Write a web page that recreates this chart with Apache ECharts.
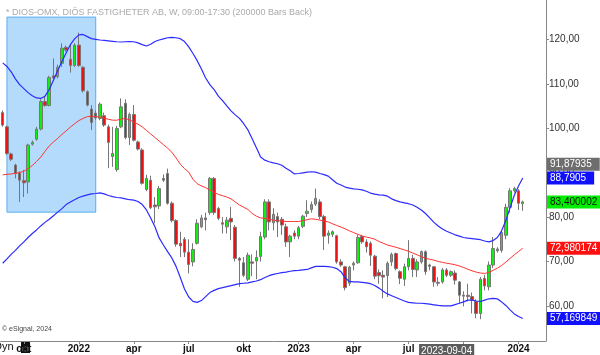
<!DOCTYPE html>
<html><head><meta charset="utf-8">
<script src="https://cdn.jsdelivr.net/npm/echarts@6/dist/echarts.min.js"></script>
<style>html,body{margin:0;padding:0;background:#fff}#c{width:600px;height:355px}</style>
</head><body><div id="c"></div>
<script>
const dates = [
'2021-08-30','2021-09-06','2021-09-13','2021-09-20','2021-09-27','2021-10-04','2021-10-11','2021-10-18','2021-10-25','2021-11-01','2021-11-08','2021-11-15','2021-11-22','2021-11-29','2021-12-06','2021-12-13','2021-12-20','2021-12-27',
'2022-01-03','2022-01-10','2022-01-17','2022-01-24','2022-01-31','2022-02-07','2022-02-14','2022-02-21','2022-02-28','2022-03-07','2022-03-14','2022-03-21','2022-03-28','2022-04-04','2022-04-11','2022-04-18','2022-04-25','2022-05-02','2022-05-09','2022-05-16','2022-05-23','2022-05-30','2022-06-06','2022-06-13','2022-06-20','2022-06-27','2022-07-04','2022-07-11','2022-07-18','2022-07-25','2022-08-01','2022-08-08','2022-08-15','2022-08-22','2022-08-29','2022-09-05','2022-09-12','2022-09-19','2022-09-26','2022-10-03','2022-10-10','2022-10-17','2022-10-24','2022-10-31','2022-11-07','2022-11-14','2022-11-21','2022-11-28','2022-12-05','2022-12-12','2022-12-19','2022-12-26',
'2023-01-02','2023-01-09','2023-01-16','2023-01-23','2023-01-30','2023-02-06','2023-02-13','2023-02-20','2023-02-27','2023-03-06','2023-03-13','2023-03-20','2023-03-27','2023-04-03','2023-04-10','2023-04-17','2023-04-24','2023-05-01','2023-05-08','2023-05-15','2023-05-22','2023-05-29','2023-06-05','2023-06-12','2023-06-19','2023-06-26','2023-07-03','2023-07-10','2023-07-17','2023-07-24','2023-07-31','2023-08-07','2023-08-14','2023-08-21','2023-08-28','2023-09-04','2023-09-11','2023-09-18','2023-09-25','2023-10-02','2023-10-09','2023-10-16','2023-10-23','2023-10-30','2023-11-06','2023-11-13','2023-11-20','2023-11-27','2023-12-04','2023-12-11','2023-12-18','2023-12-25',
'2024-01-01','2024-01-08','2024-01-15','2024-01-22','2024-01-29','2024-02-05','2024-02-12'];

const opens = [103.5,100.3,94.2,91.7,89.9,88.2,87.9,96.4,97.5,99.8,106.0,105.1,111.8,111.6,114.6,118.2,115.5,114.1,118.7,113.7,108.2,104.3,103.4,102.2,102.8,100.3,93.6,90.7,100.3,105.6,97.9,103.1,96.9,95.1,86.2,88.3,82.7,82.5,88.7,89.8,83.1,79.2,74.1,75.0,72.1,69.9,74.1,77.8,79.8,81.0,88.7,81.9,78.7,77.8,79.7,77.7,70.7,69.7,66.0,69.9,70.1,71.1,75.5,83.4,78.7,80.1,79.5,77.8,74.4,76.4,75.7,77.9,80.8,81.7,82.9,83.4,80.1,75.9,76.1,75.8,69.9,68.8,65.1,69.2,69.7,75.6,74.4,74.1,71.2,67.5,66.9,66.8,69.9,71.8,67.7,66.0,68.8,70.7,68.1,69.9,72.2,69.2,68.8,65.3,65.4,68.1,66.9,67.4,65.4,62.4,62.4,62.1,61.0,58.3,66.2,64.3,69.2,72.4,72.5,75.9,82.2,85.9,85.9,83.0];
const closes = [100.7,94.3,93.0,89.8,88.3,87.7,96.2,96.8,99.8,106.0,105.1,111.4,111.3,113.7,118.0,117.6,114.1,118.7,114.1,108.4,105.2,101.3,102.3,105.4,100.7,96.8,94.3,99.9,104.8,97.9,103.1,97.3,95.3,87.6,88.7,82.1,82.3,86.4,88.3,83.1,79.2,73.9,73.5,72.1,69.3,72.7,78.6,79.8,79.4,88.7,81.0,79.7,78.4,79.3,78.9,70.7,70.3,66.9,71.4,69.6,70.9,75.6,83.4,78.9,80.6,78.9,78.2,74.4,75.7,75.7,77.6,80.2,81.3,82.8,84.2,80.1,75.7,76.4,76.7,69.9,69.2,64.1,68.7,69.6,75.4,74.4,73.3,71.4,66.7,66.8,66.5,69.6,71.6,68.4,66.2,68.8,70.7,68.2,69.9,72.2,67.7,68.9,65.4,65.1,68.1,66.9,67.7,65.8,62.4,62.2,62.1,61.3,58.3,66.0,64.5,69.2,72.9,72.8,76.5,82.2,85.9,86.4,83.1,83.400002];
const lows = [100.3,94.0,92.6,88.7,83.4,84.5,85.3,96.1,97.2,99.5,104.8,104.9,111.0,111.2,113.8,117.2,112.5,113.8,113.8,108.0,104.9,99.6,101.9,101.8,100.3,91.0,91.3,90.2,100.0,97.5,96.2,97.0,95.0,87.3,85.8,81.8,78.6,81.8,87.9,82.8,78.8,73.3,71.0,71.0,67.3,68.9,73.8,77.5,77.0,80.5,80.5,79.3,76.3,76.3,74.8,70.0,64.3,66.5,65.6,66.7,66.0,70.0,75.0,77.0,77.0,75.5,76.0,73.3,71.0,75.0,75.0,77.5,80.0,81.0,82.5,79.5,72.6,74.0,75.5,69.5,68.8,63.5,64.5,68.0,69.5,74.0,72.0,69.0,66.0,65.0,61.7,62.0,69.0,68.0,64.9,64.5,68.0,66.5,66.5,69.5,67.0,68.0,64.3,64.5,65.0,66.5,66.5,64.8,60.5,59.9,61.0,58.3,57.2,57.0,63.5,63.5,68.5,72.0,72.0,75.0,81.0,85.5,81.6,81.4];
const highs = [104.0,100.6,94.5,92.0,90.3,90.6,96.5,97.2,100.3,106.5,107.1,111.8,115.7,114.3,119.1,118.6,118.7,119.1,121.5,114.0,108.5,105.2,104.0,105.8,103.5,100.8,100.3,100.5,106.7,106.5,103.5,105.2,97.2,95.5,89.5,89.3,84.5,87.0,89.6,90.9,83.5,79.5,76.7,75.5,75.0,74.1,79.5,80.5,81.0,89.0,89.0,82.3,80.0,80.0,82.3,78.2,71.0,71.0,72.0,71.6,72.5,76.7,84.0,84.0,82.0,81.0,80.0,78.5,76.0,77.0,78.0,80.5,83.8,83.5,86.4,84.0,80.5,77.0,77.0,76.0,70.5,69.0,69.0,70.0,76.0,76.0,75.0,74.5,71.5,68.2,68.0,70.0,72.0,72.0,68.0,69.5,74.8,71.5,70.5,72.5,72.5,69.5,69.0,66.5,68.5,68.5,68.0,68.0,65.6,63.3,65.0,63.0,61.5,66.5,67.0,70.0,75.5,73.2,77.0,83.0,86.5,86.8,86.3,83.7];

const upperBand = [114.7,113.9,112.7,111.1,109.8,108.9,108.0,107.3,106.8,106.7,107.2,108.7,110.8,112.9,115.0,116.9,118.8,120.1,121.0,121.1,120.6,120.15,120.0,119.85,119.75,119.65,119.55,119.45,119.4,119.45,119.5,119.45,119.2,118.8,118.5,118.9,119.5,119.85,120.1,120.35,120.45,120.35,120.15,119.5,118.3,116.8,115.2,113.3,111.3,109.8,108.7,107.2,106.2,105.0,103.9,103.0,102.2,101.0,99.6,97.6,95.6,93.5,92.8,92.45,92.2,92.0,91.65,91.0,90.4,89.7,89.8,89.95,90.1,90.2,90.1,89.8,89.55,89.2,88.4,87.6,87.2,86.75,86.5,86.35,86.25,86.1,85.8,85.4,85.15,85.0,84.95,84.7,84.1,83.7,83.4,83.2,83.0,82.7,82.2,81.6,80.8,79.8,78.8,78.0,77.3,76.8,76.4,76.0,75.7,75.4,75.25,75.15,75.05,74.9,74.6,74.4,74.7,75.4,76.9,79.2,82.1,84.9,87.0,88.7905];
const middleBand = [89.5,89.6,89.7,89.85,90.0,90.3,90.9,91.6,92.5,93.5,94.8,96.0,96.9,97.7,98.6,99.4,100.25,101.0,101.7,102.2,102.6,102.7,102.6,102.5,102.25,102.0,101.8,101.8,102.05,102.2,101.85,101.4,100.9,100.3,99.5,98.7,97.9,97.1,96.3,95.5,94.6,93.3,91.9,90.9,90.1,88.5,87.5,87.0,86.6,86.1,85.6,85.1,84.8,84.5,84.1,83.4,82.7,82.2,81.7,80.8,80.2,79.8,79.7,79.5,79.3,79.15,79.1,79.0,79.0,79.0,79.0,79.2,79.4,79.6,79.5,79.3,79.1,78.9,78.5,78.1,77.75,77.35,76.9,76.5,76.1,75.75,75.5,75.3,75.0,74.5,74.1,73.7,73.45,73.2,72.9,72.6,72.3,71.9,71.5,71.1,70.7,70.5,70.3,70.0,69.8,69.6,69.45,69.25,69.0,68.65,68.25,67.9,67.6,67.4,67.3,67.55,68.0,68.5,69.1,69.85,70.7,71.5,72.25,72.980174];
const lowerBand = [69.6,70.6,71.6,72.5,73.5,74.4,75.4,76.3,77.1,78.0,78.8,79.5,80.3,81.1,81.9,82.8,83.4,83.9,84.4,84.7,85.0,85.2,85.3,85.45,85.2,84.85,84.6,84.4,84.3,84.1,83.9,83.8,83.5,82.8,81.6,79.8,77.8,75.3,73.7,72.2,70.8,68.9,66.4,63.8,62.0,61.0,60.8,61.2,62.1,63.0,63.5,63.9,64.1,64.35,64.55,64.8,65.0,65.1,65.2,65.4,65.6,65.9,66.4,66.8,67.1,67.3,67.5,67.6,67.8,67.95,68.0,68.1,68.2,68.55,68.9,68.9,68.9,68.85,68.7,68.4,67.7,66.3,65.5,65.4,65.4,65.3,65.2,65.0,64.6,64.0,63.3,62.7,62.3,61.9,61.5,61.1,60.8,60.7,60.6,60.6,60.5,60.4,60.25,60.1,60.0,60.0,60.0,60.3,60.6,60.9,61.3,61.3,61.1,61.0,61.3,61.6,61.7,61.6,60.9,60.1,59.1,58.2,57.6,57.169849];

const titleText = '* DIOS-OMX, DIÖS FASTIGHETER AB, W, 09:00-17:30 (200000 Bars Back)';
const copyrightText = '\u00a9 eSignal, 2024';
const highlightDate = '2023-09-04';
const hiddenDate = '2023-10-02';
const cursorValue = 91.87935;
const monthNames = {1: null, 4: 'apr', 7: 'jul', 10: 'okt'};
const boxStart = '2021-09-06', boxEnd = '2022-01-31', boxTop = 125.0, boxBottom = 81.1;

const FONT = "'Liberation Sans', Arial, sans-serif";
const candles = opens.map((o, i) => [o, closes[i], lows[i], highs[i]]);
const last = a => a[a.length - 1];
const comma = v => String(v).replace('.', ',');

function isQuarterStart(d) {
  const m = +d.slice(5, 7), day = +d.slice(8, 10);
  return day <= 7 && (m in monthNames);
}
function tag(value, bg, fg) {
  return {
    yAxis: value,
    label: {
      show: true, position: 'end', distance: 1,
      formatter: () => comma(value),
      backgroundColor: bg, color: fg, fontSize: 10, fontFamily: FONT,
      padding: [1, 8, 0, 3], lineHeight: 12
    }
  };
}
function tagLine(items) {
  return {
    silent: true, symbol: ['none', 'none'], precision: 6,
    lineStyle: { color: 'rgba(0,0,0,0)', width: 1, type: 'solid' },
    emphasis: { disabled: true },
    data: items
  };
}

const chart = echarts.init(document.getElementById('c'), null, { renderer: 'canvas' });
chart.setOption({
  animation: false,
  backgroundColor: '#ffffff',
  textStyle: { fontFamily: FONT },
  title: {
    text: titleText, left: 1, top: 3,
    textStyle: { fontSize: 9, color: '#aaaaaa', fontWeight: 'normal', fontFamily: FONT }
  },
  graphic: [
    { type: 'text', left: 2, top: 326, style: { text: copyrightText, font: '7px ' + FONT, fill: '#444' } },
    { type: 'text', left: -6, top: 341, style: { text: 'Dyn', font: '11px ' + FONT, fill: '#111' } },
    { type: 'rect', shape: { x: 21, y: 342, width: 9, height: 11 }, style: { fill: '#111' } },
    { type: 'rect', shape: { x: 23, y: 347, width: 5, height: 4 }, style: { fill: 'none', stroke: '#777', lineWidth: 1 } }
  ],
  grid: { left: 0.6, right: 54, top: 0, bottom: 14, outerBoundsMode: 'none', containLabel: false },
  xAxis: {
    type: 'category', data: dates, boundaryGap: true,
    axisLine: { lineStyle: { color: '#888', width: 1 } },
    axisTick: {
      show: true, alignWithLabel: true, length: 3, lineStyle: { color: '#888' },
      interval: (i, v) => isQuarterStart(v)
    },
    axisLabel: {
      margin: 3, fontSize: 10, fontWeight: 'bold', color: '#111', fontFamily: FONT,
      interval: (i, v) => (isQuarterStart(v) && v !== hiddenDate) || v === highlightDate,
      formatter: v => {
        if (v === highlightDate) return '{hl|' + v + '}';
        const m = +v.slice(5, 7);
        return m === 1 ? v.slice(0, 4) : monthNames[m];
      },
      rich: { hl: { backgroundColor: '#5c5c5c', color: '#fff', fontWeight: 'normal', fontSize: 10, padding: [2, 2, 1, 2], fontFamily: FONT } }
    },
    splitLine: { show: false }
  },
  yAxis: {
    type: 'value', position: 'right', min: 52.1, max: 128.85, splitNumber: 8, scale: true,
    axisLine: { show: true, lineStyle: { color: '#888' } },
    axisTick: { show: true, length: 3, lineStyle: { color: '#888' } },
    axisLabel: {
      margin: 3, fontSize: 10, color: '#333', fontFamily: FONT,
      showMinLabel: false, showMaxLabel: false,
      formatter: v => v.toFixed(2).replace('.', ',')
    },
    splitLine: { show: false }
  },
  series: [
    {
      name: 'highlight', type: 'line', data: [], z: 1, silent: true,
      markArea: {
        silent: true,
        itemStyle: { color: '#b5dbfc', borderColor: '#5aaef0', borderWidth: 1 },
        data: [[{ xAxis: boxStart, yAxis: boxTop }, { xAxis: boxEnd, yAxis: boxBottom }]]
      }
    },
    {
      name: 'DIOS', type: 'candlestick', data: candles, z: 3, barWidth: 3,
      itemStyle: { color: '#11ee11', color0: '#ee1111', borderColor: '#777', borderColor0: '#777', borderWidth: 1 },
      markLine: tagLine([tag(cursorValue, '#6e6e6e', '#fff'), tag(last(closes), '#00ee00', '#111')])
    },
    {
      name: 'Upper', type: 'line', data: upperBand, z: 4, showSymbol: false, symbol: 'none',
      lineStyle: { color: '#2b2bff', width: 1.2 },
      markLine: tagLine([tag(last(upperBand), '#1010ff', '#fff')])
    },
    {
      name: 'Middle', type: 'line', data: middleBand, z: 4, showSymbol: false, symbol: 'none',
      lineStyle: { color: '#ff3333', width: 1 },
      markLine: tagLine([tag(last(middleBand), '#ff1010', '#fff')])
    },
    {
      name: 'Lower', type: 'line', data: lowerBand, z: 4, showSymbol: false, symbol: 'none',
      lineStyle: { color: '#2b2bff', width: 1.2 },
      markLine: tagLine([tag(last(lowerBand), '#1010ff', '#fff')])
    }
  ]
});
</script></body></html>
